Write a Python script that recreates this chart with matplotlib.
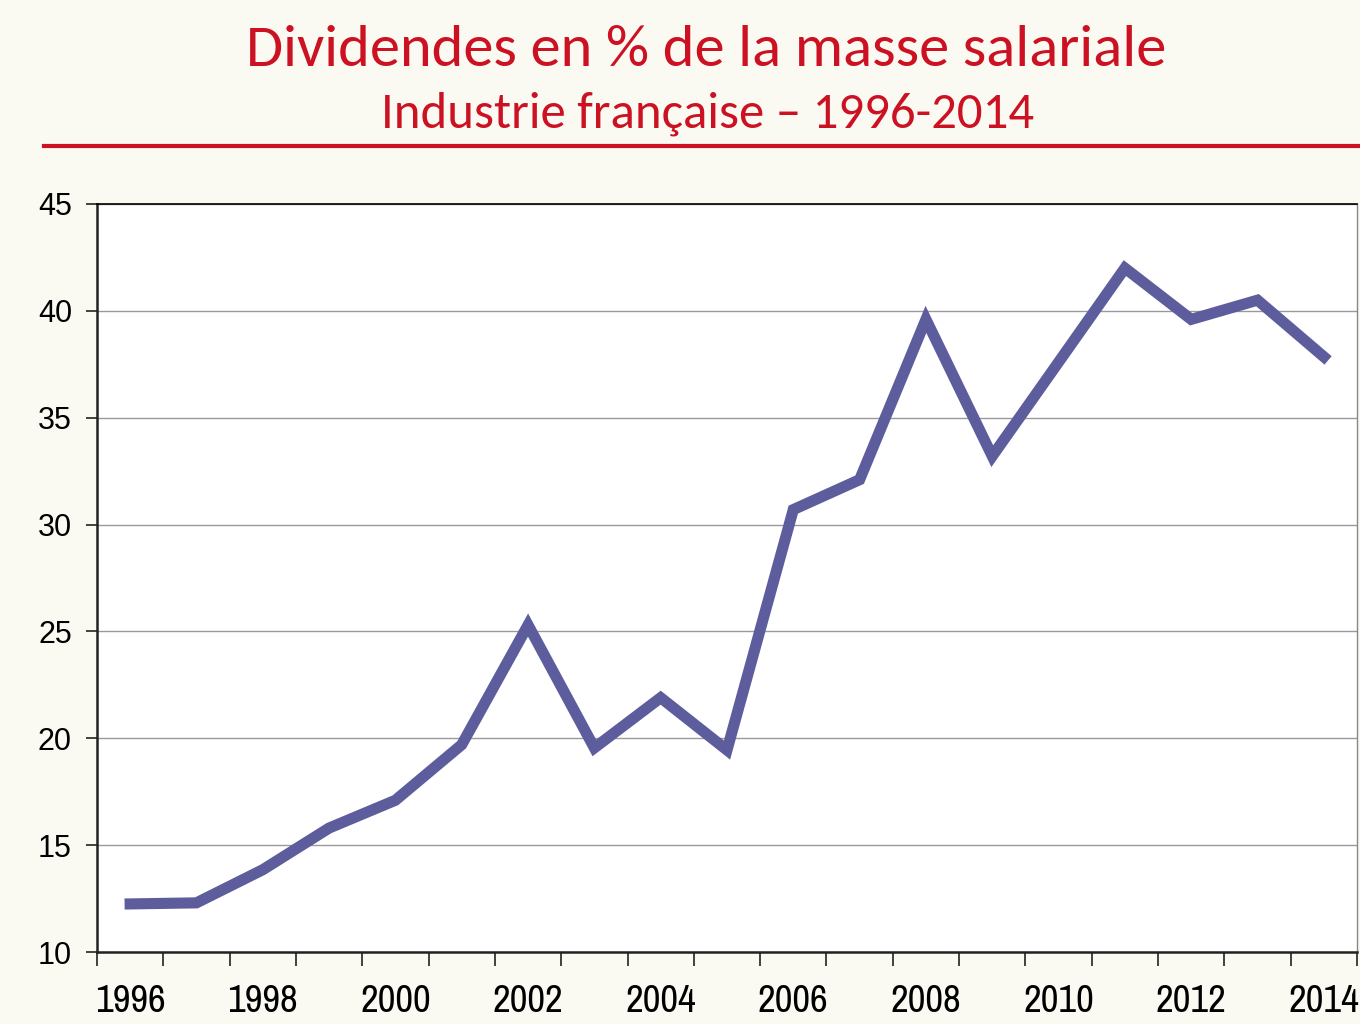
import matplotlib
matplotlib.use("Agg")
import matplotlib.pyplot as plt
from matplotlib.lines import Line2D

years = list(range(1996, 2015))
dividendes = [12.25, 12.3, 13.85, 15.8, 17.1, 19.7, 25.3, 19.55, 21.9, 19.45,
              30.7, 32.1, 39.6, 33.2, 37.6, 42.0, 39.6, 40.5, 37.85]
title = "Dividendes en % de la masse salariale"
subtitle = "Industrie française \u2013 1996-2014"

red = "#cc1122"
line_color = "#5d5d9e"
narrow = ["Archivo Narrow", "DejaVu Sans"]
titre_font = ["Carlito", "DejaVu Sans"]

fig = plt.figure(figsize=(13.6, 10.24), dpi=100, facecolor="#fafaf3")
ax = fig.add_axes([0.0713, 0.0703, 0.9265, 0.7305])
ax.set_facecolor("white")

x = list(range(len(years)))
ax.plot(x, dividendes, color=line_color, lw=8, solid_joinstyle="miter", zorder=3)

ax.set_xlim(-0.5, len(years) - 0.5)
ax.set_ylim(10, 45)
ax.set_yticks(range(10, 46, 5))
ax.yaxis.grid(True, color="#999999", lw=1)
ax.set_axisbelow(True)

# tick marks between categories, labels every other year
ax.set_xticks([i - 0.5 for i in range(len(years) + 1)])
ax.set_xticklabels([])
ax.set_xticks(x[::2], minor=True)
ax.set_xticklabels([str(y) for y in years[::2]], minor=True, family=narrow, fontsize=28)
ax.tick_params(axis="x", which="major", length=10, width=1.2, direction="out", color="#222222")
ax.tick_params(axis="x", which="minor", length=0, pad=23)
ax.tick_params(axis="y", length=8, width=1.2, direction="out", labelsize=22, pad=10, color="#222222")
for lab in ax.get_yticklabels():
    lab.set_family(["Liberation Sans", "DejaVu Sans"])

for side in ["left", "bottom"]:
    ax.spines[side].set_linewidth(1.8)
    ax.spines[side].set_color("#222222")
ax.spines["top"].set_linewidth(1.2)
ax.spines["right"].set_linewidth(1.0)
ax.spines["right"].set_color("#888888")

fig.text(0.5195, 0.951, title, ha="center", va="center", color=red, fontsize=43.5, family=titre_font)
fig.text(0.5205, 0.889, subtitle, ha="center", va="center", color=red, fontsize=36.5, family=titre_font)
fig.add_artist(Line2D([0.032, 1.0], [0.857, 0.857], transform=fig.transFigure, color=red, lw=3))

fig.savefig("out.png", dpi=100, facecolor=fig.get_facecolor())
